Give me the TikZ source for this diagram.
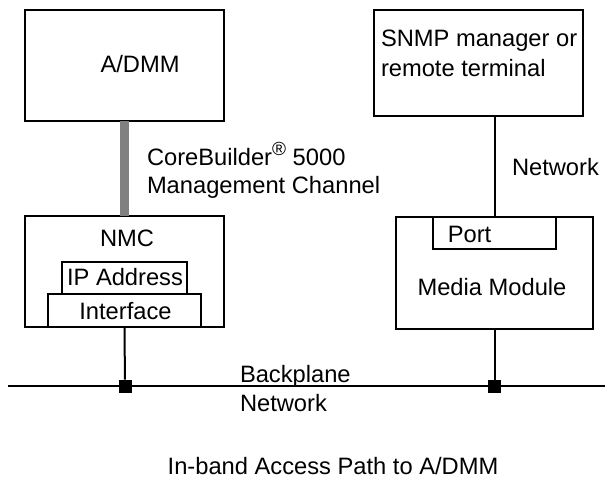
\documentclass[tikz,border=0pt]{standalone}
\usepackage{fontspec}
\setmainfont{Liberation Sans}
\begin{document}
\begin{tikzpicture}[x=1pt,y=-1pt,
  box/.style={draw=black,line width=2.2pt,inner sep=0pt,outer sep=0pt,minimum width=#1},
  lbl/.style={inner sep=0pt,outer sep=0pt,font=\fontsize{23.7}{30}\selectfont},
  conn/.style={line width=2pt,black},
  tap/.style={fill=black,inner sep=0pt,outer sep=0pt,minimum size=13pt}]
\useasboundingbox (0,0) rectangle (605,480);
% boxes
\node[box=199pt,minimum height=111pt] (adm) at (124.5,65.5) {};
\node[box=199pt,minimum height=111pt] (nmc) at (124.5,271.5) {};
\node[box=125pt,minimum height=32pt] (ip) at (124.5,278) {};
\node[box=153pt,minimum height=33pt] (iface) at (124.5,310.5) {};
\node[box=209pt,minimum height=106pt] (snmp) at (478.5,63) {};
\node[box=197pt,minimum height=112pt] (mm) at (494.5,273) {};
\node[box=123pt,minimum height=32pt] (port) at (494.5,233) {};
% backplane
\coordinate (bl) at (8,386);
\coordinate (br) at (605,386);
\draw[conn] (bl) -- (br);
\node[tap] (t1) at (125,386) {};
\node[tap] (t2) at (494.5,386) {};
% connectors
\draw[line width=9pt,gray] (adm.south) -- (nmc.north);
\draw[conn] (snmp.south -| port.north) -- (port.north);
\draw[conn] (iface.south) -- (t1);
\draw[conn] (mm.south) -- (t2);
% texts
\node[lbl,anchor=base] (tadm) at (140,72) {A/DMM};
\node[lbl,anchor=base] (tnmc) at (127,246) {NMC};
\node[lbl,anchor=base] (tip) at (125,285) {IP Address};
\node[lbl,anchor=base] (tif) at (125.5,319) {Interface};
\node[lbl,anchor=base west] (ts1) at (381,46) {SNMP manager or};
\node[lbl,anchor=base west] (ts2) at (381,76) {remote terminal};
\node[lbl,anchor=base] (tport) at (469.5,242) {Port};
\node[lbl,anchor=base] (tmm) at (492,295) {Media Module};
\node[lbl,anchor=base west] (tnet) at (512,175) {Network};
\node[lbl,anchor=base west] (tcb1) at (147,165) {CoreBuilder\raisebox{0.42em}{\fontsize{19}{19}\selectfont ®} 5000};
\node[lbl,anchor=base west] (tcb2) at (147,193) {Management Channel};
\node[lbl,anchor=base west] (tbp1) at (240,382) {Backplane};
\node[lbl,anchor=base west] (tbp2) at (240,411) {Network};
\node[lbl,anchor=base] (cap) at (333,474) {In-band Access Path to A/DMM};
\end{tikzpicture}
\end{document}
